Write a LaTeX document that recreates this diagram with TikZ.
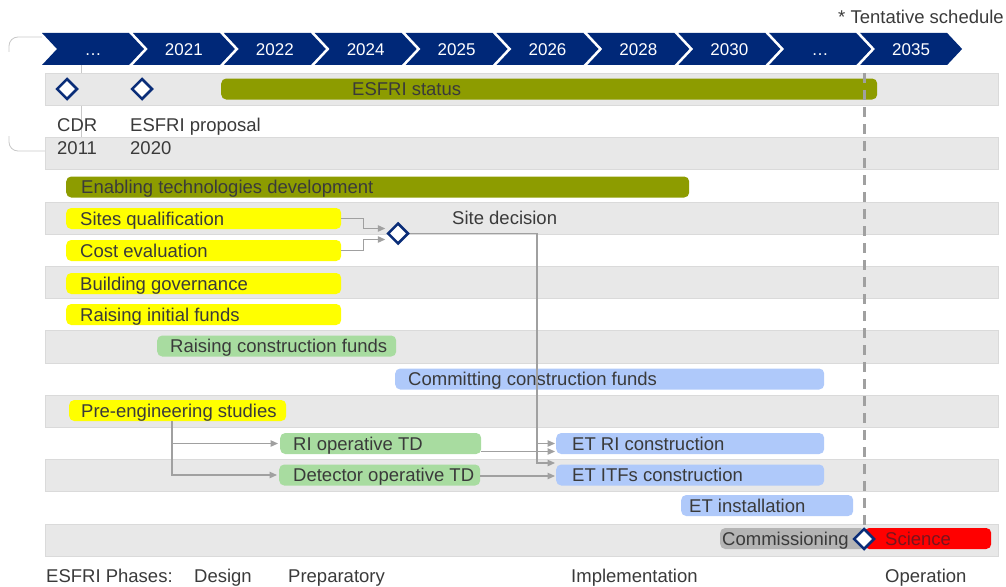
\documentclass[tikz,border=0pt]{standalone}
\usepackage{fontspec}
\setmainfont{Liberation Sans}
\usetikzlibrary{shapes.geometric,arrows.meta,calc}
\definecolor{navy}{RGB}{0,40,120}
\definecolor{dnavy}{RGB}{10,45,120}
\definecolor{olive}{RGB}{141,156,0}
\definecolor{yel}{RGB}{255,255,0}
\definecolor{grn}{RGB}{168,220,160}
\definecolor{blu}{RGB}{175,201,250}
\definecolor{stripe}{RGB}{232,232,232}
\definecolor{stripeline}{RGB}{218,218,218}
\definecolor{comm}{RGB}{180,180,180}
\definecolor{sci}{RGB}{255,0,0}
\definecolor{scitext}{RGB}{120,20,30}
\definecolor{txtc}{RGB}{58,58,58}
\definecolor{conc}{RGB}{160,160,160}
\definecolor{dashc}{RGB}{160,160,160}
\definecolor{brk}{RGB}{200,200,200}
\newcommand\bartext[3]{\makebox[#1pt][l]{\hspace*{#2pt}#3}}
\begin{document}
\begin{tikzpicture}[x=1pt,y=-1pt,
 every node/.style={font=\fontsize{18.5}{23}\selectfont, text=txtc},
 txt/.style={inner sep=0pt, text height=13pt, text depth=0pt},
 bar/.style={anchor=west, rounded corners=5pt, inner xsep=0pt, inner ysep=0pt, minimum height=21pt, text height=13pt, text depth=0pt},
 chev/.style={fill=navy},
 yeartxt/.style={font=\fontsize{17}{20}\selectfont, text=white, inner sep=0pt, text height=12pt, text depth=0pt},
 milestone/.style={diamond, draw=dnavy, line width=2.5pt, fill=white, minimum width=21pt, minimum height=21pt, inner sep=0pt},
 conn/.style={draw=conc, line width=1.2pt, -{Triangle[length=7.5pt,width=6.5pt]}},
 bracket/.style={draw=brk, line width=0.8pt},
 stripebox/.style={fill=stripe, draw=stripeline, line width=0.5pt},
 dashline/.style={draw=dashc, line width=3pt, dash pattern=on 10pt off 7pt},
]
\useasboundingbox (0,0) rectangle (1006,586);

% faint bracket remnants
\draw[bracket, rounded corners=9pt] (42,37) -- (9,37) -- (9,52);
\draw[bracket, rounded corners=9pt] (9,136) -- (9,151) -- (45,151);
\draw[bracket] (81,65) -- (81,147);

% stripes
\foreach \k in {0,2,...,14}{
  \pgfmathsetmacro{\yt}{73+32.2*\k}
  \path[stripebox] (45,\yt) rectangle (998,\yt+32.2);
}

% chevrons
\foreach \i/\t in {0/…,1/2021,2/2022,3/2024,4/2025,5/2026,6/2028,7/2030,8/…,9/2035}{
  \pgfmathsetmacro{\xl}{42+90.9*\i}
  \fill[chev] (\xl,33) -- (\xl+87,33) -- (\xl+102,49) -- (\xl+87,65) -- (\xl,65) -- (\xl+15,49) -- cycle;
  \node[yeartxt] (yr\i) at (\xl+51,50) {\t};
}

\node[txt, anchor=east] (tent) at (1004,17) {* Tentative schedule};

% bars
\node[bar, fill=olive] (esfri) at (221,89) {\bartext{656}{131}{ESFRI status}};
\node[bar, fill=olive] (enab) at (66,187) {\bartext{623}{15}{Enabling technologies development}};
\node[bar, fill=yel] (sq) at (66,218.5) {\bartext{275}{14}{Sites qualification}};
\node[bar, fill=yel] (ce) at (66,250.5) {\bartext{275}{14}{Cost evaluation}};
\node[bar, fill=yel] (bg) at (66,283.5) {\bartext{275}{14}{Building governance}};
\node[bar, fill=yel] (rif) at (66,314.5) {\bartext{275}{14}{Raising initial funds}};
\node[bar, fill=grn] (rcf) at (157,346) {\bartext{239}{13}{Raising construction funds}};
\node[bar, fill=blu] (ccf) at (395,379) {\bartext{429}{13}{Committing construction funds}};
\node[bar, fill=yel] (pe) at (69,410.5) {\bartext{217}{12}{Pre-engineering studies}};
\node[bar, fill=grn] (riop) at (280,443.5) {\bartext{201}{13}{RI operative TD}};
\node[bar, fill=grn] (detop) at (279,475) {\bartext{201}{14}{Detector operative TD}};
\node[bar, fill=blu] (etri) at (556,443.5) {\bartext{268}{16}{ET RI construction}};
\node[bar, fill=blu] (etitf) at (556,475) {\bartext{268}{16}{ET ITFs construction}};
\node[bar, fill=blu] (etinst) at (681,505.5) {\bartext{172}{8}{ET installation}};
\node[bar, fill=comm] (comm) at (720,538.5) {\bartext{145}{2}{Commissioning}};
\node[bar, fill=sci, text=scitext] (sci) at (864,538.5) {\bartext{127}{21}{Science}};

% milestones
\node[milestone] (cdrms) at (67,89) {};
\node[milestone] (propms) at (142,89) {};
\node[milestone] (sd) at (398,233.5) {};
\coordinate (endpos) at (864,539);

% dashed line, then the final milestone on top of it
\coordinate (dtop) at (864,73);
\draw[dashline] (dtop) -- ($(endpos)+(0,-11)$);
\node[milestone] (endms) at (endpos) {};

% connectors
\draw[conn] (sq.east) -- ++(22,0) |- ($(sd.west)+(-1,-5)$);
\draw[conn] (ce.east) -- ++(22,0) |- ($(sd.west)+(-1,6)$);
\draw[conn] (sd.east) -| ($(etri.west)+(-19,0)$) -- ($(etri.west)+(-1,0)$);
\draw[conn] ($(etri.west)+(-19,0)$) |- ($(etitf.west)+(-1,-12)$);
\draw[conn] ($(riop.east)+(0,8)$) -- ($(etri.west)+(-1,8)$);
\draw[conn] ($(detop.east)+(0,1)$) -- ($(etitf.west)+(-1,1)$);
\draw[conn] ($(pe.south west)+(103,0)$) |- ($(riop.west)+(-2,0)$);
\draw[conn] ($(pe.south west)+(103,0)$) |- ($(detop.west)+(-2,0)$);

% texts
\node[txt, anchor=west] (cdr) at (57,125) {CDR};
\node[txt, anchor=west] (cdryr) at (57,148) {2011};
\node[txt, anchor=west] (prop) at (130,125) {ESFRI proposal};
\node[txt, anchor=west] (propyr) at (130,148) {2020};
\node[txt, anchor=west] (sdlabel) at (452,218) {Site decision};

\node[txt, anchor=west] (ph) at (46,576) {ESFRI Phases:};
\node[txt, anchor=west] (phd) at (194,576) {Design};
\node[txt, anchor=west] (php) at (288,576) {Preparatory};
\node[txt, anchor=west] (phi) at (571,576) {Implementation};
\node[txt, anchor=west] (pho) at (885,576) {Operation};
\end{tikzpicture}
\end{document}
